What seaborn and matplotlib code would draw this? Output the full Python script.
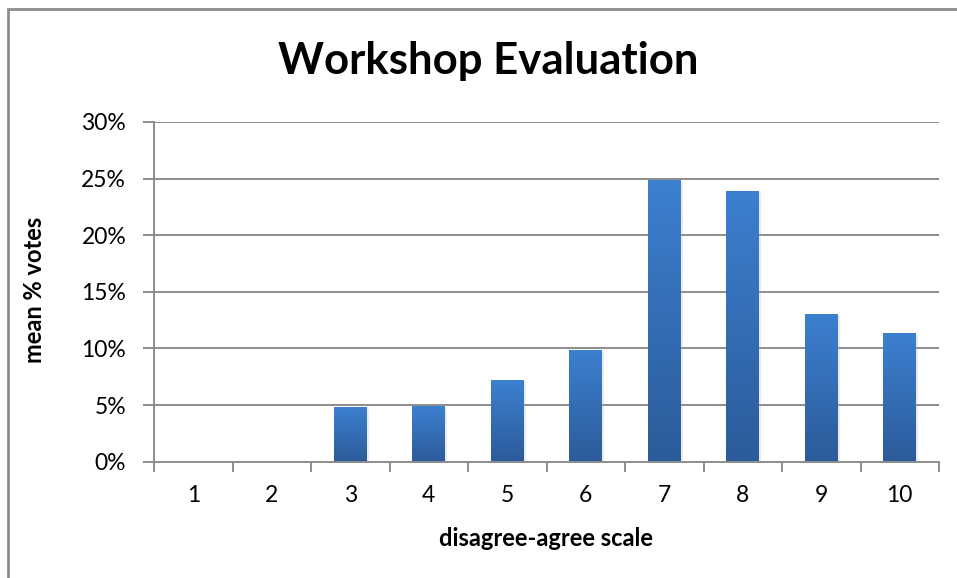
import numpy as np
import pandas as pd
import seaborn as sns
import matplotlib
matplotlib.use("Agg")
import matplotlib.pyplot as plt
from matplotlib.ticker import PercentFormatter, FixedLocator
from matplotlib.colors import LinearSegmentedColormap
from matplotlib.patches import Rectangle
import matplotlib.patheffects as pe

# ---- data ----
categories = ["1", "2", "3", "4", "5", "6", "7", "8", "9", "10"]
mean_votes = [0.0, 0.0, 4.83, 4.92, 7.22, 9.87, 24.88, 23.9, 13.05, 11.35]
y_ticks = [0, 5, 10, 15, 20, 25, 30]

title = "Workshop Evaluation"
x_label = "disagree-agree scale"
y_label = "mean % votes"

df = pd.DataFrame({"scale": categories, "votes": mean_votes})

sns.set_theme(style="white")
plt.rcParams["font.family"] = ["Lato", "DejaVu Sans"]
plt.rcParams["text.color"] = "black"

W, H = 957, 578
fig = plt.figure(figsize=(W / 100, H / 100), dpi=100)
ax = fig.add_axes([154 / W, 1 - 461.7 / H, (939 - 154) / W, (461.7 - 122) / H])

sns.barplot(data=df, x="scale", y="votes", order=categories, color="#3a78c6",
            width=0.42, ax=ax, zorder=3, edgecolor="none")

grad_cmap = LinearSegmentedColormap.from_list("g", ["#2c5b99", "#3c80d0"])
grad = np.linspace(0, 1, 256).reshape(-1, 1)
for p in ax.patches:
    x0, y0 = p.get_x(), p.get_y()
    w, h = p.get_width(), p.get_height()
    if h <= 0:
        continue
    p.set_path_effects([pe.SimplePatchShadow(offset=(1.5, -1.5), shadow_rgbFace="#b0b0b0", alpha=0.25), pe.Normal()])
    im = ax.imshow(grad, extent=[x0, x0 + w, y0, y0 + h], origin="lower",
                   aspect="auto", cmap=grad_cmap, zorder=4, interpolation="bicubic")
    im.set_clip_path(p)

ax.set_xlim(-0.5, len(categories) - 0.5)
ax.set_ylim(0, 30)

grid_c = "#8c8c8c"
ax.yaxis.set_major_locator(FixedLocator(y_ticks))
ax.yaxis.set_major_formatter(PercentFormatter(xmax=100, decimals=0))
for yv in y_ticks[1:]:
    ax.axhline(yv, color=grid_c, lw=1.4, zorder=1)

ax.set_xticks(range(len(categories)))
ax.set_xticklabels(categories)
ax.set_xticks(np.arange(-0.5, len(categories), 1), minor=True)
ax.tick_params(axis="x", which="major", length=0, pad=17, labelsize=16.5, colors="black")
ax.tick_params(axis="x", which="minor", length=7, width=1.4, color=grid_c, direction="out", bottom=True)
ax.tick_params(axis="y", which="major", length=8, width=1.4, color=grid_c, direction="out",
               left=True, pad=12, labelsize=16.5, labelcolor="black")

for s in ["top", "right"]:
    ax.spines[s].set_visible(False)
for s in ["left", "bottom"]:
    ax.spines[s].set_visible(True)
    ax.spines[s].set_color(grid_c)
    ax.spines[s].set_linewidth(1.4)
    ax.spines[s].set_zorder(5)

ax.set_xlabel("")
ax.set_ylabel("")
fig.text(546 / W, 1 - 538 / H, x_label, ha="center", va="center", fontsize=17, fontweight="bold", color="black")
fig.text(35 / W, 1 - 290 / H, y_label, ha="center", va="center", fontsize=17, fontweight="bold", rotation=90, color="black")
fig.text(488 / W, 1 - 61 / H, title, ha="center", va="center", fontsize=31.5, fontweight="bold", color="black")

fig.add_artist(Rectangle((8 / W, -0.1), 1.2, (1 - 9 / H) + 0.1, transform=fig.transFigure,
                         fill=False, edgecolor="#8c8c8c", lw=2))

fig.savefig("out.png", dpi=100)
